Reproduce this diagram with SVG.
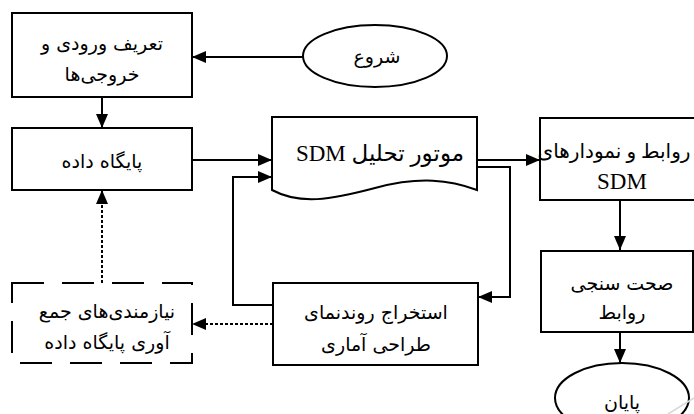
<svg xmlns="http://www.w3.org/2000/svg" width="694" height="414" viewBox="0 0 694 414">
<style>
.box{fill:#fff;stroke:#000;stroke-width:2}
.dash{fill:#fff;stroke:#000;stroke-width:2;stroke-dasharray:32,18}
.fa{font-family:"DejaVu Sans","Noto Sans",sans-serif;font-size:19px;fill:#000;text-anchor:middle;direction:rtl}
.fs{font-family:"Liberation Serif","DejaVu Sans",serif;font-size:23px;fill:#000;text-anchor:middle;direction:rtl}
.c{fill:none;stroke:#000;stroke-width:2}
.dot{fill:none;stroke:#000;stroke-width:2;stroke-dasharray:3,2}
</style>
<defs>
<marker id="ah" markerUnits="userSpaceOnUse" markerWidth="16" markerHeight="14" refX="14" refY="6" orient="auto">
<path d="M0,0 L14,6 L0,12 z" fill="#000"/>
</marker>
</defs>
<rect width="694" height="414" fill="#fff"/>
<g id="connectors">
<line class="c" x1="303" y1="57" x2="192" y2="57" marker-end="url(#ah)"/>
<line class="c" x1="102" y1="97" x2="102" y2="128" marker-end="url(#ah)"/>
<line class="c" x1="192" y1="160" x2="272" y2="160" marker-end="url(#ah)"/>
<polyline class="c" points="273,305 233,305 233,177 272,177" marker-end="url(#ah)"/>
<line class="c" x1="477" y1="160" x2="540" y2="160" marker-end="url(#ah)"/>
<polyline class="c" points="477,167 510,167 510,297 478,297" marker-end="url(#ah)"/>
<line class="c" x1="620" y1="200" x2="620" y2="250" marker-end="url(#ah)"/>
<line class="c" x1="620" y1="332" x2="620" y2="363" marker-end="url(#ah)"/>
<line class="dot" x1="273" y1="324" x2="192" y2="324" marker-end="url(#ah)"/>
<line class="dot" x1="102" y1="283" x2="102" y2="190" marker-end="url(#ah)"/>
</g>
<g id="start">
<ellipse class="box" cx="375" cy="56" rx="72" ry="31"/>
<text class="fa" x="377" y="63">شروع</text>
</g>
<g id="io">
<rect class="box" x="12" y="13" width="180" height="84"/>
<text class="fa" x="102" y="50">تعریف ورودی و</text>
<text class="fa" x="102" y="81">خروجی‌ها</text>
</g>
<g id="db">
<rect class="box" x="12" y="128" width="180" height="62"/>
<text class="fa" x="102" y="168">پایگاه داده</text>
</g>
<g id="engine">
<path class="box" d="M272,117 H477 V190 C450,180 420,176 375,188 C330,200 300,205 272,190 Z"/>
<text class="fs" x="380" y="161">موتور تحلیل SDM</text>
</g>
<g id="relations">
<rect class="box" x="540" y="118" width="166" height="82"/>
<text class="fs" x="614" y="158" style="font-size:20px">روابط و نمودارهای</text>
<text class="fs" x="622" y="189">SDM</text>
</g>
<g id="validate">
<rect class="box" x="541" y="251" width="152" height="81"/>
<text class="fa" x="622" y="290">صحت سنجی</text>
<text class="fa" x="622" y="319">روابط</text>
</g>
<g id="end">
<ellipse class="box" cx="622" cy="398" rx="67" ry="35"/>
<text class="fa" x="622" y="409">پایان</text>
</g>
<g id="extract">
<rect class="box" x="273" y="283" width="205" height="82"/>
<text class="fa" x="376" y="319">استخراج روندنمای</text>
<text class="fa" x="376" y="351">طراحی آماری</text>
</g>
<g id="requirements">
<rect class="dash" x="12" y="283" width="180" height="80"/>
<text class="fa" x="107" y="318">نیازمندی‌های جمع</text>
<text class="fa" x="107" y="349">آوری پایگاه داده</text>
</g>
<line x1="668" y1="414" x2="694" y2="398" stroke="#d8d8d8" stroke-width="1.5"/>
</svg>
